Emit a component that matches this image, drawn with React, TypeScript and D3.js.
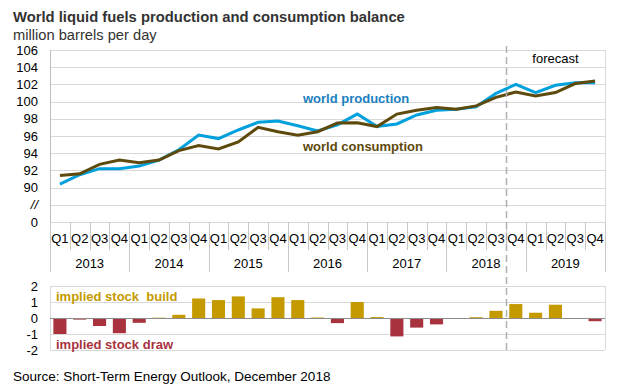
import React, { useEffect, useRef } from 'react';
import * as d3 from 'd3';

const years = ['2013', '2014', '2015', '2016', '2017', '2018', '2019'];
const quarters = ['Q1', 'Q2', 'Q3', 'Q4'];

const production = [
  90.4, 91.5, 92.2, 92.2, 92.5, 93.2, 94.4, 96.1, 95.7, 96.7, 97.6, 97.75, 97.2, 96.6,
  97.3, 98.55, 97.1, 97.4, 98.45, 99.0, 99.1, 99.4, 100.95, 102.0, 101.05, 101.9, 102.2, 102.2,
];
const consumption = [
  91.4, 91.6, 92.7, 93.2, 92.9, 93.2, 94.3, 94.9, 94.5, 95.3, 97.0, 96.5, 96.1, 96.5,
  97.5, 97.55, 97.1, 98.55, 99.0, 99.3, 99.1, 99.5, 100.5, 101.1, 100.65, 101.05, 102.1, 102.4,
];
const stockChange = [
  -1.0, -0.1, -0.5, -0.95, -0.3, 0.02, 0.2, 1.22, 1.12, 1.35, 0.6, 1.3, 1.12, 0.03,
  -0.32, 1.0, 0.06, -1.15, -0.6, -0.4, -0.06, 0.05, 0.45, 0.87, 0.33, 0.83, -0.03, -0.2,
];
const topTicks = [106, 104, 102, 100, 98, 96, 94, 92, 90];
const bottomTicks = [2, 1, 0, -1, -2];
const forecastStart = 23;

const BLUE = '#00a0dd';
const BROWN = '#5e4a0c';
const GOLD = '#c49a00';
const RED = '#a8323e';
const GRID = '#d9d9d9';
const FONT = 'Arial, "Liberation Sans", sans-serif';

const App = () => {
  const ref = useRef<SVGSVGElement>(null);

  useEffect(() => {
    const svg = d3.select(ref.current);
    svg.selectAll('*').remove();

    const left = 50;
    const right = 605;
    const labels = years.flatMap((y) => quarters.map((q) => `${y} ${q}`));

    const x = d3.scaleBand().domain(labels).range([left, right]);
    const step = x.bandwidth();
    const cx = (i: number) => (x(labels[i]) as number) + step / 2;

    // top panel: 106 at top, "0" two steps below 90
    const y = d3.scaleLinear().domain([86, 106]).range([222, 50]);
    const top = svg.append('g');

    const gridVals = [...topTicks, 88, 86];
    top.selectAll('line.grid')
      .data(gridVals)
      .enter()
      .append('line')
      .attr('x1', left)
      .attr('x2', right)
      .attr('y1', (d) => Math.round(y(d)) + 0.5)
      .attr('y2', (d) => Math.round(y(d)) + 0.5)
      .attr('stroke', GRID)
      .attr('stroke-width', 1);

    top.append('line')
      .attr('x1', right + 0.5).attr('x2', right + 0.5)
      .attr('y1', y(106)).attr('y2', y(86))
      .attr('stroke', GRID);
    top.append('line')
      .attr('x1', left + 0.5).attr('x2', left + 0.5)
      .attr('y1', y(106)).attr('y2', y(86))
      .attr('stroke', '#bfbfbf');

    top.selectAll('text.ytick')
      .data(topTicks)
      .enter()
      .append('text')
      .attr('x', 38)
      .attr('y', (d) => y(d) + 4.5)
      .attr('text-anchor', 'end')
      .style('font', `13px ${FONT}`)
      .attr('fill', '#000')
      .text((d) => d);
    top.append('text')
      .attr('x', 38).attr('y', y(88) + 4.5)
      .attr('text-anchor', 'end')
      .style('font', `italic 13px ${FONT}`)
      .text('//');
    top.append('text')
      .attr('x', 38).attr('y', y(86) + 4.5)
      .attr('text-anchor', 'end')
      .style('font', `13px ${FONT}`)
      .text('0');

    // category axis
    const axisY = y(86);
    labels.forEach((l, i) => {
      const x0 = Math.round(x(l) as number) + 0.5;
      const isYear = i % 4 === 0;
      top.append('line')
        .attr('x1', x0).attr('x2', x0)
        .attr('y1', axisY).attr('y2', isYear ? axisY + 50 : axisY + 28)
        .attr('stroke', '#c8c8c8');
      top.append('text')
        .attr('x', cx(i))
        .attr('y', axisY + 21)
        .attr('text-anchor', 'middle')
        .style('font', `13px ${FONT}`)
        .text(quarters[i % 4]);
    });
    top.append('line')
      .attr('x1', right + 0.5).attr('x2', right + 0.5)
      .attr('y1', axisY).attr('y2', axisY + 50)
      .attr('stroke', '#c8c8c8');
    years.forEach((yr, k) => {
      top.append('text')
        .attr('x', (x(labels[k * 4]) as number) + step * 2)
        .attr('y', axisY + 46)
        .attr('text-anchor', 'middle')
        .style('font', `13px ${FONT}`)
        .text(yr);
    });

    const line = d3.line<number>()
      .x((d, i) => cx(i))
      .y((d) => y(d));

    top.append('path')
      .datum(production)
      .attr('d', line)
      .attr('fill', 'none')
      .attr('stroke', BLUE)
      .attr('stroke-width', 3);
    top.append('path')
      .datum(consumption)
      .attr('d', line)
      .attr('fill', 'none')
      .attr('stroke', BROWN)
      .attr('stroke-width', 3);

    top.append('text')
      .attr('x', 303).attr('y', 103)
      .style('font', `bold 13px ${FONT}`)
      .attr('fill', '#1a80bf')
      .text('world production');
    top.append('text')
      .attr('x', 303).attr('y', 151)
      .style('font', `bold 13px ${FONT}`)
      .attr('fill', BROWN)
      .text('world consumption');
    top.append('text')
      .attr('x', (x(labels[forecastStart]) as number + right) / 2)
      .attr('y', 63)
      .attr('text-anchor', 'middle')
      .style('font', `13px ${FONT}`)
      .text('forecast');

    // bottom panel
    const yb = d3.scaleLinear().domain([-2, 2]).range([350, 286]);
    const bot = svg.append('g');
    bot.selectAll('line.grid')
      .data(bottomTicks.filter((d) => d !== 0))
      .enter()
      .append('line')
      .attr('x1', left).attr('x2', right)
      .attr('y1', (d) => Math.round(yb(d)) + 0.5)
      .attr('y2', (d) => Math.round(yb(d)) + 0.5)
      .attr('stroke', GRID);
    bot.append('line')
      .attr('x1', left + 0.5).attr('x2', left + 0.5)
      .attr('y1', yb(2)).attr('y2', yb(-2))
      .attr('stroke', GRID);
    bot.append('line')
      .attr('x1', right + 0.5).attr('x2', right + 0.5)
      .attr('y1', yb(2)).attr('y2', yb(-2))
      .attr('stroke', GRID);

    const barW = step * 0.66;
    bot.selectAll('rect.bar')
      .data(stockChange)
      .enter()
      .append('rect')
      .attr('x', (d, i) => cx(i) - barW / 2)
      .attr('width', barW)
      .attr('y', (d) => yb(Math.max(0, d)))
      .attr('height', (d) => Math.abs(yb(d) - yb(0)))
      .attr('fill', (d) => (d >= 0 ? GOLD : RED));

    bot.append('line')
      .attr('x1', left).attr('x2', right)
      .attr('y1', Math.round(yb(0)) + 0.5)
      .attr('y2', Math.round(yb(0)) + 0.5)
      .attr('stroke', '#8c8c8c');

    bot.selectAll('text.ytick')
      .data(bottomTicks)
      .enter()
      .append('text')
      .attr('x', 38)
      .attr('y', (d) => yb(d) + 4.5)
      .attr('text-anchor', 'end')
      .style('font', `13px ${FONT}`)
      .text((d) => d);

    bot.append('text')
      .attr('x', 56).attr('y', 301)
      .style('font', `bold 13px ${FONT}`)
      .attr('fill', GOLD)
      .attr('xml:space', 'preserve')
      .text('implied stock  build');
    bot.append('text')
      .attr('x', 56).attr('y', 349)
      .style('font', `bold 13px ${FONT}`)
      .attr('fill', RED)
      .text('implied stock draw');

    // forecast divider
    const fx = Math.round(x(labels[forecastStart]) as number) + 0.5;
    svg.append('line')
      .attr('x1', fx).attr('x2', fx)
      .attr('y1', 46).attr('y2', 350)
      .attr('stroke', '#b0b0b0')
      .attr('stroke-width', 1.5)
      .attr('stroke-dasharray', '7,4');

    // titles
    svg.append('text')
      .attr('x', 13).attr('y', 22)
      .style('font', `bold 14.8px ${FONT}`)
      .attr('fill', '#333')
      .text('World liquid fuels production and consumption balance');
    svg.append('text')
      .attr('x', 13).attr('y', 40)
      .style('font', `14.7px ${FONT}`)
      .attr('fill', '#333')
      .text('million barrels per day');
    svg.append('text')
      .attr('x', 13).attr('y', 381)
      .style('font', `13.5px ${FONT}`)
      .attr('fill', '#000')
      .text('Source: Short-Term Energy Outlook, December 2018');
  }, []);

  return (
    <svg
      ref={ref}
      width={640}
      height={388}
      style={{ position: 'absolute', left: 0, top: 0, background: '#fff' }}
    />
  );
};

export default App;
